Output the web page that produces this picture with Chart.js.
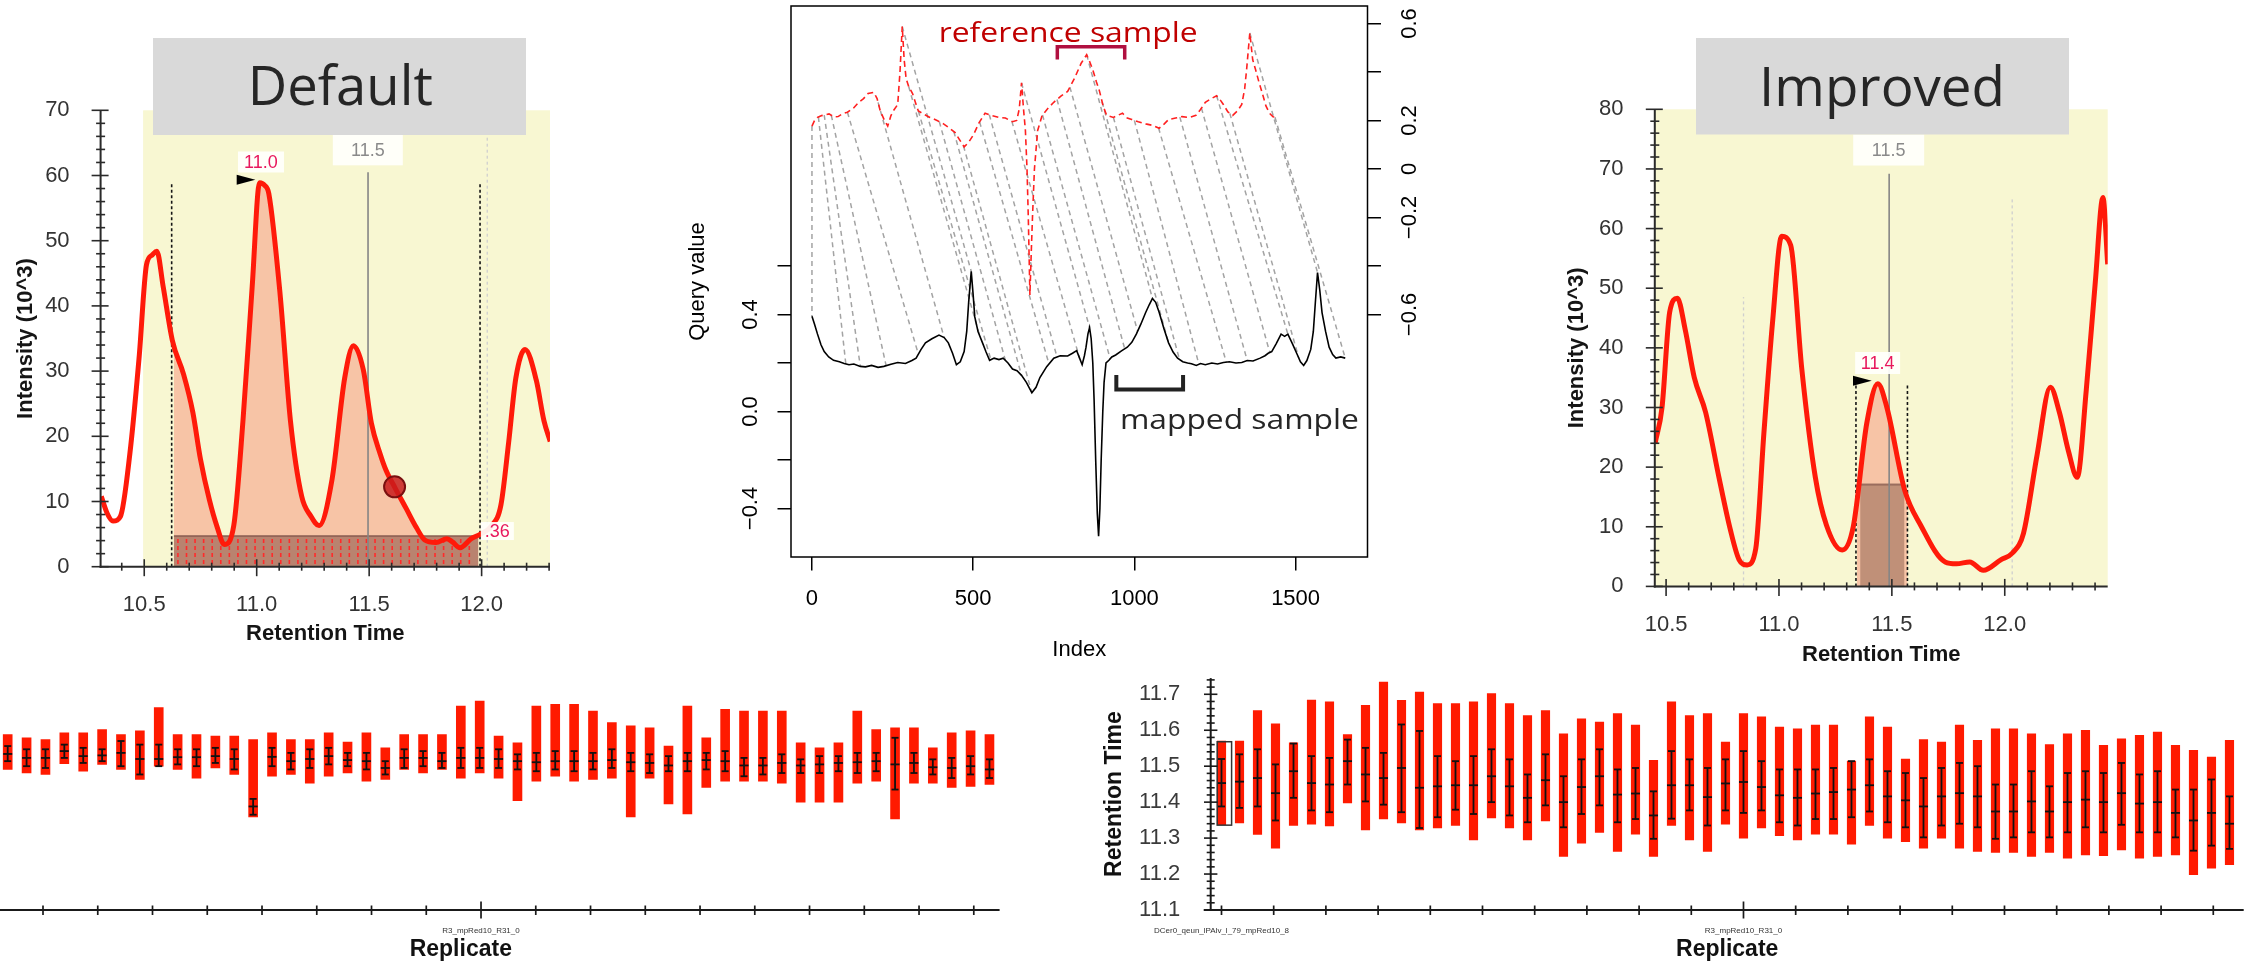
<!DOCTYPE html>
<html>
<head>
<meta charset="utf-8">
<title>Retention time alignment</title>
<script src="https://cdn.jsdelivr.net/npm/chart.js@4.4.1/dist/chart.umd.min.js"></script>
<style>
  html, body { margin: 0; padding: 0; background: #fff; width: 2261px; height: 963px; overflow: hidden; }
  canvas { position: absolute; top: 0; }
</style>
</head>
<body>
<canvas id="chartDefault" width="2261" height="963" style="left:0"></canvas>
<canvas id="chartAlign" width="2261" height="963" style="left:0"></canvas>
<canvas id="chartImproved" width="2261" height="963" style="left:0"></canvas>
<canvas id="chartRepLeft" width="1300" height="963" style="left:-200px"></canvas>
<canvas id="chartRepRight" width="2261" height="963" style="left:0"></canvas>
<script>
Chart.defaults.font.family = "'Liberation Sans', Arial, Helvetica, sans-serif";

// ---------- chromatograms (intensity x10^3 vs retention time) ----------
var timeTicks = [10.5, 11.0, 11.5, 12.0];

var defaultTime = [10.309, 10.335, 10.361, 10.394, 10.436, 10.477, 10.51, 10.535, 10.556, 10.584, 10.625, 10.675, 10.716, 10.75, 10.79, 10.825, 10.856, 10.898, 10.939, 10.98, 11.013, 11.035, 11.054, 11.104, 11.15, 11.2, 11.24, 11.277, 11.335, 11.391, 11.43, 11.474, 11.51, 11.549, 11.575, 11.615, 11.665, 11.71, 11.747, 11.797, 11.846, 11.87, 11.904, 11.954, 11.995, 12.045, 12.086, 12.12, 12.152, 12.193, 12.243, 12.277, 12.305];
var defaultIntensity = [10.8, 8.2, 7.0, 7.7, 17.3, 32, 46.3, 47.8, 48.4, 43, 34.7, 29.5, 23.7, 16.5, 10.2, 6.0, 3.4, 6.3, 22.4, 43, 58.9, 58.5, 57.2, 41.8, 22.4, 10.8, 7.8, 6.3, 13.4, 28.9, 33.9, 30.2, 22, 17.3, 14.8, 12.1, 8.9, 6.0, 4.1, 3.7, 4.3, 3.8, 2.9, 4.3, 5.0, 6.3, 9.5, 19, 28.9, 33.3, 28.6, 22.4, 19.2];
var defaultPeak = [10.632, 11.985];
var defaultBand = [10.632, 11.985, 4.7];
var defaultLines = [[10.622, 59, 'bound'], [11.993, 59, 'bound'], [11.495, 60.5, 'apex'], [12.025, 66, 'faint']];
var defaultLabels = [['11.0', 11.019, 62.07, 46, 21, 'pink'], ['11.5', 11.494, 63.94, 70, 31, 'grey'], ['.36', 12.07, 5.47, 33, 18, 'pink']];
var defaultArrow = [10.911, 10.994, 59.35];
var defaultMarker = [11.613, 12.25];

var improvedTime = [10.452, 10.482, 10.516, 10.55, 10.585, 10.625, 10.675, 10.734, 10.784, 10.823, 10.859, 10.897, 10.933, 10.972, 11.012, 11.052, 11.101, 11.161, 11.21, 11.28, 11.329, 11.389, 11.438, 11.478, 11.557, 11.627, 11.736, 11.786, 11.845, 11.905, 11.984, 12.034, 12.083, 12.143, 12.202, 12.242, 12.282, 12.321, 12.361, 12.401, 12.435, 12.456];
var improvedIntensity = [24.1, 30, 46, 48.3, 43, 35, 29.2, 18.3, 9.6, 4.5, 3.6, 6.3, 25.6, 44.5, 58.7, 57.2, 36.5, 18.3, 10.3, 6.1, 10, 27.4, 34, 30, 16.1, 10.3, 4.1, 3.8, 4.1, 2.7, 4.5, 5.6, 8.9, 22, 33.4, 29.2, 22.7, 18.3, 32.9, 51, 65.2, 54];
var improvedPeak = [11.345, 11.57];
var improvedBand = [11.36, 11.555, 17.1];
var improvedLines = [[11.341, 34, 'bound'], [11.569, 34, 'bound'], [11.488, 69.2, 'apex'], [10.843, 48.5, 'faint'], [12.033, 65.2, 'faint']];
var improvedLabels = [['11.5', 11.486, 73.17, 71, 31, 'grey'], ['11.4', 11.437, 37.46, 45, 22, 'pink']];
var improvedArrow = [11.328, 11.411, 34.47];

// ---------- DTW alignment (query vs reference) ----------
var queryIndex = [0, 8, 17, 28, 38, 52, 67, 85, 100, 115, 130, 150, 166, 185, 205, 223, 245, 266, 290, 310, 323, 338, 352, 372, 394, 410, 423, 436, 448, 460, 472, 480, 486, 494, 500, 505, 515, 529, 540, 551, 565, 580, 593, 608, 622, 636, 650, 665, 682, 695, 707, 728, 750, 770, 793, 808, 821, 830, 838, 845, 850, 856, 861, 866, 871, 875, 880, 885, 889, 893, 897, 902, 906, 912, 921, 930, 942, 960, 978, 992, 1006, 1020, 1035, 1046, 1056, 1066, 1077, 1092, 1106, 1120, 1134, 1150, 1165, 1177, 1192, 1205, 1220, 1240, 1258, 1276, 1295, 1315, 1333, 1350, 1368, 1390, 1405, 1415, 1426, 1440, 1455, 1466, 1476, 1490, 1504, 1515, 1525, 1535, 1547, 1555, 1561, 1568, 1575, 1582, 1593, 1604, 1615, 1625, 1640, 1654];
var queryValue = [0.393, 0.36, 0.32, 0.275, 0.247, 0.225, 0.211, 0.205, 0.198, 0.193, 0.196, 0.186, 0.184, 0.19, 0.182, 0.186, 0.195, 0.202, 0.198, 0.21, 0.22, 0.255, 0.283, 0.3, 0.315, 0.305, 0.283, 0.24, 0.193, 0.205, 0.247, 0.33, 0.45, 0.578, 0.48, 0.39, 0.33, 0.283, 0.245, 0.211, 0.22, 0.214, 0.22, 0.2, 0.175, 0.168, 0.149, 0.12, 0.077, 0.1, 0.14, 0.185, 0.22, 0.23, 0.229, 0.24, 0.251, 0.22, 0.193, 0.23, 0.265, 0.32, 0.346, 0.3, 0.2, 0.05, -0.2, -0.42, -0.514, -0.4, -0.2, 0.0, 0.12, 0.2, 0.211, 0.225, 0.233, 0.25, 0.265, 0.285, 0.319, 0.36, 0.408, 0.44, 0.466, 0.45, 0.408, 0.34, 0.283, 0.245, 0.22, 0.205, 0.2, 0.197, 0.19, 0.198, 0.193, 0.2, 0.196, 0.202, 0.205, 0.2, 0.202, 0.21, 0.208, 0.22, 0.23, 0.24, 0.247, 0.28, 0.319, 0.31, 0.319, 0.28, 0.238, 0.205, 0.19, 0.21, 0.256, 0.33, 0.444, 0.573, 0.5, 0.408, 0.33, 0.265, 0.235, 0.22, 0.225, 0.22];
var refIndex = [0, 8, 17, 30, 53, 68, 81, 95, 110, 128, 145, 160, 174, 192, 202, 212, 225, 235, 245, 252, 266, 273, 280, 286, 292, 300, 312, 322, 330, 348, 366, 388, 408, 425, 444, 458, 472, 486, 501, 518, 537, 558, 579, 600, 622, 635, 643, 650, 656, 662, 667, 671, 676, 680, 684, 690, 700, 714, 732, 750, 772, 793, 814, 835, 852, 862, 871, 882, 892, 903, 914, 935, 963, 978, 992, 1012, 1035, 1056, 1077, 1092, 1106, 1128, 1148, 1170, 1191, 1205, 1220, 1238, 1255, 1266, 1276, 1290, 1305, 1320, 1333, 1342, 1348, 1358, 1367, 1376, 1386, 1397, 1408, 1419, 1430, 1440];
var refValue = [0.177, 0.2, 0.2125, 0.22, 0.227, 0.215, 0.216, 0.228, 0.234, 0.25, 0.275, 0.29, 0.311, 0.316, 0.29, 0.239, 0.2, 0.177, 0.22, 0.239, 0.266, 0.4, 0.5875, 0.45, 0.373, 0.34, 0.311, 0.27, 0.239, 0.225, 0.2125, 0.2, 0.186, 0.17, 0.15, 0.12, 0.091, 0.11, 0.141, 0.19, 0.23, 0.22, 0.2125, 0.21, 0.195, 0.2, 0.248, 0.355, 0.25, 0.159, 0.0, -0.2, -0.52, -0.35, -0.198, 0.0, 0.159, 0.221, 0.25, 0.275, 0.3, 0.32, 0.373, 0.436, 0.471, 0.44, 0.409, 0.36, 0.32, 0.26, 0.221, 0.2125, 0.23, 0.21, 0.204, 0.195, 0.186, 0.18, 0.168, 0.185, 0.204, 0.21, 0.216, 0.212, 0.221, 0.245, 0.275, 0.29, 0.302, 0.285, 0.266, 0.235, 0.221, 0.24, 0.266, 0.33, 0.409, 0.561, 0.45, 0.409, 0.36, 0.311, 0.26, 0.23, 0.215, 0.2125];
var matchRef = [0, 20, 38, 60, 110, 205, 280, 300, 330, 395, 440, 470, 520, 550, 620, 650, 715, 760, 800, 852, 900, 935, 1000, 1075, 1141, 1208, 1255, 1296, 1358, 1436];
var matchQuery = [0, 105, 150, 230, 330, 410, 494, 520, 555, 600, 650, 682, 735, 760, 830, 861, 925, 970, 1010, 1056, 1105, 1140, 1200, 1285, 1350, 1420, 1476, 1510, 1568, 1654];
var indexTicks = [0, 500, 1000, 1500];
var queryTicks = [-0.4, -0.2, 0, 0.2, 0.4, 0.6];
var queryLabels = [-0.4, 0, 0.4];
var refTicks = [-0.6, -0.4, -0.2, 0, 0.2, 0.4, 0.6];
var refLabels = [-0.6, -0.2, 0, 0.2, 0.6];

// ---------- replicate retention times ----------
var repLeftHigh = [11.588, 11.579, 11.574, 11.593, 11.593, 11.602, 11.588, 11.598, 11.663, 11.588, 11.588, 11.584, 11.584, 11.574, 11.593, 11.574, 11.574, 11.593, 11.567, 11.593, 11.551, 11.588, 11.588, 11.588, 11.667, 11.681, 11.584, 11.565, 11.667, 11.672, 11.672, 11.653, 11.621, 11.612, 11.607, 11.556, 11.667, 11.579, 11.658, 11.653, 11.653, 11.653, 11.565, 11.551, 11.565, 11.653, 11.602, 11.607, 11.607, 11.551, 11.593, 11.598, 11.588];
var repLeftLow = [11.491, 11.481, 11.477, 11.507, 11.486, 11.505, 11.491, 11.463, 11.5, 11.491, 11.467, 11.495, 11.477, 11.359, 11.472, 11.477, 11.453, 11.472, 11.481, 11.458, 11.463, 11.491, 11.481, 11.491, 11.467, 11.481, 11.467, 11.404, 11.458, 11.472, 11.458, 11.463, 11.467, 11.359, 11.467, 11.395, 11.367, 11.441, 11.458, 11.458, 11.458, 11.453, 11.4, 11.4, 11.4, 11.453, 11.458, 11.353, 11.453, 11.453, 11.441, 11.444, 11.449];
var repLeftErrHigh = [11.556, 11.547, 11.547, 11.56, 11.551, 11.547, 11.57, 11.56, 11.56, 11.547, 11.547, 11.551, 11.547, 11.409, 11.551, 11.537, 11.547, 11.551, 11.537, 11.537, 11.514, 11.547, 11.542, 11.537, 11.551, 11.551, 11.547, 11.533, 11.537, 11.542, 11.542, 11.537, 11.547, 11.537, 11.533, 11.528, 11.537, 11.537, 11.542, 11.523, 11.523, 11.533, 11.519, 11.528, 11.528, 11.537, 11.537, 11.579, 11.537, 11.519, 11.523, 11.528, 11.519];
var repLeftErrLow = [11.514, 11.5, 11.495, 11.523, 11.509, 11.514, 11.5, 11.477, 11.5, 11.505, 11.5, 11.509, 11.491, 11.365, 11.5, 11.491, 11.495, 11.505, 11.5, 11.491, 11.477, 11.495, 11.5, 11.495, 11.495, 11.495, 11.495, 11.491, 11.486, 11.491, 11.486, 11.491, 11.495, 11.486, 11.481, 11.486, 11.486, 11.491, 11.486, 11.472, 11.477, 11.481, 11.481, 11.481, 11.486, 11.481, 11.486, 11.435, 11.481, 11.477, 11.467, 11.477, 11.467];
var repLeftMean = [11.534, 11.523, 11.523, 11.542, 11.528, 11.53, 11.537, 11.52, 11.52, 11.525, 11.525, 11.528, 11.52, 11.388, 11.526, 11.514, 11.52, 11.528, 11.517, 11.514, 11.495, 11.523, 11.523, 11.514, 11.523, 11.523, 11.52, 11.514, 11.511, 11.514, 11.514, 11.514, 11.517, 11.511, 11.509, 11.502, 11.514, 11.517, 11.514, 11.502, 11.502, 11.509, 11.502, 11.505, 11.509, 11.511, 11.514, 11.505, 11.509, 11.497, 11.495, 11.5, 11.491];

var repRightHigh = [11.57, 11.57, 11.655, 11.618, 11.565, 11.684, 11.679, 11.588, 11.669, 11.734, 11.683, 11.706, 11.674, 11.674, 11.679, 11.702, 11.674, 11.641, 11.655, 11.59, 11.632, 11.623, 11.646, 11.614, 11.516, 11.679, 11.641, 11.646, 11.567, 11.646, 11.637, 11.609, 11.604, 11.614, 11.614, 11.514, 11.637, 11.609, 11.52, 11.574, 11.567, 11.614, 11.572, 11.604, 11.604, 11.59, 11.56, 11.59, 11.6, 11.558, 11.576, 11.586, 11.595, 11.558, 11.544, 11.525, 11.572];
var repRightLow = [11.337, 11.342, 11.31, 11.272, 11.335, 11.339, 11.334, 11.398, 11.323, 11.353, 11.342, 11.323, 11.328, 11.335, 11.295, 11.356, 11.328, 11.295, 11.348, 11.249, 11.286, 11.316, 11.263, 11.311, 11.249, 11.335, 11.295, 11.263, 11.339, 11.3, 11.328, 11.307, 11.295, 11.311, 11.311, 11.283, 11.335, 11.3, 11.29, 11.272, 11.3, 11.272, 11.263, 11.26, 11.26, 11.249, 11.26, 11.244, 11.253, 11.251, 11.267, 11.244, 11.249, 11.253, 11.198, 11.216, 11.226];
var repRightErrHigh = [11.52, 11.533, 11.547, 11.505, 11.563, 11.528, 11.523, 11.574, 11.551, 11.537, 11.616, 11.598, 11.528, 11.514, 11.528, 11.547, 11.519, 11.477, 11.533, 11.472, 11.519, 11.547, 11.491, 11.495, 11.43, 11.542, 11.519, 11.495, 11.519, 11.542, 11.514, 11.491, 11.491, 11.491, 11.495, 11.514, 11.519, 11.486, 11.481, 11.467, 11.495, 11.509, 11.5, 11.449, 11.449, 11.486, 11.444, 11.481, 11.486, 11.481, 11.509, 11.477, 11.486, 11.435, 11.435, 11.463, 11.416];
var repRightMean = [11.453, 11.457, 11.467, 11.425, 11.486, 11.453, 11.449, 11.514, 11.477, 11.467, 11.495, 11.44, 11.444, 11.447, 11.447, 11.472, 11.444, 11.412, 11.461, 11.4, 11.442, 11.472, 11.421, 11.424, 11.363, 11.447, 11.447, 11.414, 11.452, 11.456, 11.442, 11.419, 11.412, 11.424, 11.428, 11.435, 11.447, 11.416, 11.405, 11.388, 11.416, 11.425, 11.416, 11.374, 11.374, 11.402, 11.374, 11.4, 11.407, 11.4, 11.425, 11.396, 11.4, 11.37, 11.349, 11.37, 11.34];
var repRightErrLow = [11.388, 11.384, 11.388, 11.349, 11.412, 11.377, 11.372, 11.449, 11.402, 11.393, 11.372, 11.328, 11.358, 11.379, 11.367, 11.4, 11.363, 11.344, 11.391, 11.33, 11.367, 11.391, 11.344, 11.353, 11.298, 11.354, 11.377, 11.335, 11.377, 11.37, 11.377, 11.344, 11.335, 11.353, 11.353, 11.358, 11.374, 11.344, 11.33, 11.302, 11.335, 11.34, 11.33, 11.298, 11.302, 11.316, 11.302, 11.316, 11.33, 11.316, 11.337, 11.316, 11.316, 11.302, 11.265, 11.279, 11.27];
var rtTicks = [11.1, 11.2, 11.3, 11.4, 11.5, 11.6, 11.7];

// ---------- helpers ----------
function seg(ctx, x1, y1, x2, y2) {
  ctx.beginPath(); ctx.moveTo(x1, y1); ctx.lineTo(x2, y2); ctx.stroke();
}
function interp(xs, ys, v) {
  for (var i = 1; i < xs.length; i++) {
    if (v <= xs[i]) {
      var t = (v - xs[i - 1]) / (xs[i] - xs[i - 1]);
      return ys[i - 1] + t * (ys[i] - ys[i - 1]);
    }
  }
  return ys[ys.length - 1];
}
function pairs(xs, ys) {
  return xs.map(function (x, i) { return {x: x, y: ys[i]}; });
}
function peakArea(xs, ys, from, to) {
  var pts = [{x: from, y: interp(xs, ys, from)}];
  xs.forEach(function (x, i) { if (x > from && x < to) pts.push({x: x, y: ys[i]}); });
  pts.push({x: to, y: interp(xs, ys, to)});
  return pts;
}
// draw text stretched to a given width (the figure text is a bit wide)
function fitText(ctx, text, x, base, width, font, color) {
  ctx.save();
  ctx.font = font; ctx.fillStyle = color;
  ctx.textAlign = 'left'; ctx.textBaseline = 'alphabetic';
  var s = width / ctx.measureText(text).width;
  ctx.translate(x, base); ctx.scale(s, 1);
  ctx.fillText(text, 0, 0);
  ctx.restore();
}
function valueTicks(list) {
  return function (s) { s.ticks = list.map(function (v) { return {value: v}; }); };
}

var lineStyles = {
  bound: {color: '#151515', dash: [3, 2.5], width: 1.6},
  apex: {color: '#858585', dash: [], width: 1.6},
  faint: {color: '#cfcfcf', dash: [3, 3], width: 1.3}
};

function chromDecor(p) {
  return {
    id: 'chromDecor',
    beforeDatasetsDraw: function (chart) {
      var a = chart.chartArea, ctx = chart.ctx;
      var left = Math.max(a.left, chart.scales.x.getPixelForValue(p.shadeFrom));
      ctx.save();
      ctx.fillStyle = '#f8f7d2';
      ctx.fillRect(left, a.top, a.right - left, a.bottom - a.top);
      ctx.restore();
    },
    afterDatasetDraw: function (chart, args) {
      if (args.index !== 1) return;
      var ctx = chart.ctx, x = chart.scales.x, y = chart.scales.y;
      var x0 = x.getPixelForValue(p.band[0]), x1 = x.getPixelForValue(p.band[1]);
      var yb = y.getPixelForValue(0), yt = y.getPixelForValue(p.band[2]);
      ctx.save();
      ctx.fillStyle = p.bandColor;
      ctx.fillRect(x0, yt, x1 - x0, yb - yt);
      ctx.strokeStyle = 'rgba(130,85,75,0.7)'; ctx.lineWidth = 2;
      seg(ctx, x0, yt, x1, yt);
      if (p.hatch) {
        ctx.strokeStyle = '#ff2b2b'; ctx.lineWidth = 1.6; ctx.setLineDash([4, 3]);
        for (var hx = x0 + 4; hx < x1 - 1; hx += 8.57) seg(ctx, hx, yt + 3, hx, yb);
      }
      p.lines.forEach(function (l) {
        var st = lineStyles[l[2]];
        var lx = x.getPixelForValue(l[0]);
        ctx.strokeStyle = st.color; ctx.lineWidth = st.width; ctx.setLineDash(st.dash);
        seg(ctx, lx, y.getPixelForValue(0), lx, y.getPixelForValue(l[1]));
      });
      ctx.restore();
    },
    afterDatasetsDraw: function (chart) {
      var ctx = chart.ctx, a = chart.chartArea, x = chart.scales.x, y = chart.scales.y;
      ctx.save();
      // axes with crossing ticks
      ctx.strokeStyle = '#2a2a2a'; ctx.lineWidth = 2;
      seg(ctx, a.left, a.top, a.left, a.bottom + 1);
      seg(ctx, a.left - 1, a.bottom, a.right, a.bottom);
      ctx.lineWidth = 1.6;
      for (var v = 0; v <= p.yMax; v += 2) {
        var yy = y.getPixelForValue(v), major = v % 10 === 0;
        seg(ctx, a.left - (major ? 9 : 4.5), yy, a.left + (major ? 8 : 4.5), yy);
      }
      for (var k = Math.ceil(x.min * 10); k <= Math.floor(x.max * 10); k++) {
        var xx = x.getPixelForValue(k / 10), maj = k % 5 === 0;
        seg(ctx, xx, a.bottom - (maj ? 7.5 : 4), xx, a.bottom + (maj ? 9.5 : 4));
      }
      // peak labels
      p.labels.forEach(function (l) {
        var cx = x.getPixelForValue(l[1]), cy = y.getPixelForValue(l[2]);
        ctx.fillStyle = 'rgba(255,255,252,0.93)';
        ctx.fillRect(cx - l[3] / 2, cy - l[4] / 2, l[3], l[4]);
        ctx.fillStyle = l[5] === 'pink' ? '#e8185c' : '#8a8a8a';
        ctx.font = "18px 'Liberation Sans', Arial, sans-serif";
        ctx.textAlign = 'center'; ctx.textBaseline = 'middle';
        ctx.fillText(l[0], cx, cy + 1);
      });
      // apex arrow
      var ax0 = x.getPixelForValue(p.arrow[0]), ax1 = x.getPixelForValue(p.arrow[1]), ay = y.getPixelForValue(p.arrow[2]);
      ctx.fillStyle = '#000';
      ctx.beginPath(); ctx.moveTo(ax0, ay - 5); ctx.lineTo(ax1, ay); ctx.lineTo(ax0, ay + 5); ctx.closePath(); ctx.fill();
      ctx.restore();
    },
    afterDraw: function (chart) {
      var ctx = chart.ctx, t = p.tag;
      ctx.save();
      ctx.fillStyle = '#d9d9d9';
      ctx.fillRect(t.box[0], t.box[1], t.box[2] - t.box[0], t.box[3] - t.box[1]);
      ctx.restore();
      fitText(ctx, t.text, t.left, t.base, t.width, "54px 'Open Sans', Lato, sans-serif", '#262626');
    }
  };
}

function chromatogram(id, p) {
  var a = p.area;
  var sets = [
    {data: pairs(p.time, p.intensity), borderColor: '#ff1a0a', borderWidth: 5, pointRadius: 0,
     cubicInterpolationMode: 'monotone', fill: false, order: 1},
    {data: peakArea(p.time, p.intensity, p.peak[0], p.peak[1]), borderColor: 'rgba(0,0,0,0)', borderWidth: 0,
     pointRadius: 0, cubicInterpolationMode: 'monotone', fill: 'origin', backgroundColor: '#f7c4a6', order: 2}
  ];
  if (p.marker) {
    sets.push({data: [{x: p.marker[0], y: p.marker[1]}], showLine: false, pointRadius: 10.5,
      pointBackgroundColor: 'rgba(200,28,28,0.85)', pointBorderColor: '#7a1010', pointBorderWidth: 2, order: 0});
  }
  var yTicks = [];
  for (var v = 0; v <= p.yMax; v += 10) yTicks.push(v);
  return new Chart(document.getElementById(id), {
    type: 'line',
    data: {datasets: sets},
    options: {
      responsive: false, animation: false, devicePixelRatio: 1,
      layout: {padding: {left: a.l - p.yAxisW, top: a.t, right: 2261 - a.r, bottom: 963 - a.b - p.xAxisH}},
      plugins: {legend: {display: false}, tooltip: {enabled: false}},
      scales: {
        x: {
          type: 'linear', min: p.xRange[0], max: p.xRange[1],
          afterFit: function (s) { s.height = p.xAxisH; },
          afterBuildTicks: valueTicks(timeTicks),
          grid: {display: false}, border: {display: false},
          ticks: {padding: p.xLabelPad, font: {size: 22}, color: '#333', maxRotation: 0, autoSkip: false,
                  callback: function (v) { return v.toFixed(1); }},
          title: {display: true, text: 'Retention Time', font: {size: 22, weight: 'bold'}, color: '#151515', padding: 0}
        },
        y: {
          min: 0, max: p.yMax,
          afterFit: function (s) { s.width = p.yAxisW; },
          afterBuildTicks: valueTicks(yTicks),
          grid: {display: false}, border: {display: false},
          ticks: {padding: p.yLabelPad, font: {size: 22}, color: '#333'},
          title: {display: true, text: 'Intensity (10^3)', font: {size: 22, weight: 'bold'}, color: '#151515', padding: 0}
        }
      }
    },
    plugins: [chromDecor(p)]
  });
}

chromatogram('chartDefault', {
  time: defaultTime, intensity: defaultIntensity,
  area: {l: 100.6, t: 110.3, r: 550, b: 566.7},
  yAxisW: 88, xAxisH: 80, yLabelPad: 23, xLabelPad: 16.9,
  xRange: [10.306, 12.304], yMax: 70, shadeFrom: 10.495,
  peak: defaultPeak, band: defaultBand, bandColor: '#b9836f', hatch: true,
  lines: defaultLines, labels: defaultLabels, arrow: defaultArrow, marker: defaultMarker,
  tag: {text: 'Default', box: [153, 38, 526, 135], left: 247.8, width: 185, base: 105.3}
});

chromatogram('chartImproved', {
  time: improvedTime, intensity: improvedIntensity,
  area: {l: 1654.8, t: 109.3, r: 2107.7, b: 586.4},
  yAxisW: 91, xAxisH: 81.7, yLabelPad: 23.3, xLabelPad: 17.1,
  xRange: [10.45, 12.456], yMax: 80, shadeFrom: 10.45,
  peak: improvedPeak, band: improvedBand, bandColor: '#c09078', hatch: false,
  lines: improvedLines, labels: improvedLabels, arrow: improvedArrow, marker: null,
  tag: {text: 'Improved', box: [1696, 38, 2069, 134.5], left: 1759, width: 246, base: 106}
});

// ---------- alignment panel ----------
function signed(v, digits) {
  var s = Math.abs(v).toFixed(digits);
  return v < 0 ? '\u2212' + s : s;
}
var alignDecor = {
  id: 'alignDecor',
  beforeDatasetsDraw: function (chart) {
    var ctx = chart.ctx, x = chart.scales.x, y = chart.scales.y, y2 = chart.scales.y2;
    ctx.save();
    ctx.strokeStyle = '#a3a3a3'; ctx.lineWidth = 1.5; ctx.setLineDash([5, 4]);
    matchRef.forEach(function (r, i) {
      var q = matchQuery[i];
      seg(ctx, x.getPixelForValue(r), y2.getPixelForValue(interp(refIndex, refValue, r)),
               x.getPixelForValue(q), y.getPixelForValue(interp(queryIndex, queryValue, q)));
    });
    ctx.restore();
  },
  afterDatasetsDraw: function (chart) {
    var ctx = chart.ctx, a = chart.chartArea, y = chart.scales.y, y2 = chart.scales.y2;
    ctx.save();
    ctx.strokeStyle = '#000'; ctx.lineWidth = 1.5;
    ctx.strokeRect(a.left, a.top, a.right - a.left, a.bottom - a.top);
    ctx.fillStyle = '#000';
    ctx.font = "22px 'Liberation Sans', Arial, sans-serif";
    ctx.textAlign = 'center'; ctx.textBaseline = 'middle';
    queryLabels.forEach(function (v) {
      ctx.save(); ctx.translate(750.8, y.getPixelForValue(v)); ctx.rotate(-Math.PI / 2);
      ctx.fillText(signed(v, 1), 0, 0); ctx.restore();
    });
    refLabels.forEach(function (v) {
      ctx.save(); ctx.translate(1410, y2.getPixelForValue(v)); ctx.rotate(-Math.PI / 2);
      ctx.fillText(v === 0 ? '0' : signed(v, 1), 0, 0); ctx.restore();
    });
    ctx.restore();
  },
  afterDraw: function (chart) {
    var ctx = chart.ctx, x = chart.scales.x, y = chart.scales.y, y2 = chart.scales.y2;
    // reference bracket and label (reference axis)
    var r0 = x.getPixelForValue(761), r1 = x.getPixelForValue(970);
    var rTop = y2.getPixelForValue(0.504), rTip = y2.getPixelForValue(0.451);
    ctx.save();
    ctx.strokeStyle = '#b01040'; ctx.lineWidth = 3.5; ctx.lineJoin = 'miter';
    ctx.beginPath(); ctx.moveTo(r0, rTip); ctx.lineTo(r0, rTop); ctx.lineTo(r1, rTop); ctx.lineTo(r1, rTip); ctx.stroke();
    var m0 = x.getPixelForValue(944), m1 = x.getPixelForValue(1151);
    var mLow = y.getPixelForValue(0.091), mTip = y.getPixelForValue(0.15);
    ctx.strokeStyle = '#222'; ctx.lineWidth = 4;
    ctx.beginPath(); ctx.moveTo(m0, mTip); ctx.lineTo(m0, mLow); ctx.lineTo(m1, mLow); ctx.lineTo(m1, mTip); ctx.stroke();
    ctx.restore();
    fitText(ctx, 'reference sample', x.getPixelForValue(393), y2.getPixelForValue(0.525), 259,
            "28px 'Open Sans', Lato, sans-serif", '#c00000');
    fitText(ctx, 'mapped sample', x.getPixelForValue(955), y.getPixelForValue(-0.072), 239,
            "28px 'Open Sans', Lato, sans-serif", '#262626');
  }
};

var rTick = {display: true, drawOnChartArea: false, drawTicks: true, tickLength: 13.5,
             color: '#000', tickColor: '#000', tickWidth: 1.5, lineWidth: 1.5};

new Chart(document.getElementById('chartAlign'), {
  type: 'line',
  data: {
    datasets: [
      {label: 'query', data: pairs(queryIndex, queryValue), yAxisID: 'y', borderColor: '#000',
       borderWidth: 1.6, pointRadius: 0, tension: 0},
      {label: 'reference', data: pairs(refIndex, refValue), yAxisID: 'y2', borderColor: '#ff2020',
       borderWidth: 1.6, borderDash: [6, 4], pointRadius: 0, tension: 0}
    ]
  },
  options: {
    responsive: false, animation: false, devicePixelRatio: 1,
    layout: {padding: {left: 685.1, top: 6, right: 2261 - 1367.5 - 50, bottom: 963 - 557 - 106.2}},
    plugins: {legend: {display: false}, tooltip: {enabled: false}},
    scales: {
      x: {
        type: 'linear', min: -65, max: 1723,
        afterFit: function (s) { s.height = 106.2; },
        afterBuildTicks: valueTicks(indexTicks),
        grid: rTick, border: {display: false},
        ticks: {padding: 14.8, font: {size: 22}, color: '#000', maxRotation: 0, autoSkip: false,
                callback: function (v) { return String(v); }},
        title: {display: true, text: 'Index', font: {size: 22}, color: '#000', padding: 0}
      },
      y: {
        position: 'left', min: -0.6, max: 1.672,
        afterFit: function (s) { s.width = 105.9; },
        afterBuildTicks: valueTicks(queryTicks),
        grid: rTick, border: {display: false},
        ticks: {display: false},
        title: {display: true, text: 'Query value', font: {size: 22}, color: '#000', padding: 0}
      },
      y2: {
        position: 'right', min: -1.6, max: 0.672,
        afterFit: function (s) { s.width = 50; },
        afterBuildTicks: valueTicks(refTicks),
        grid: rTick, border: {display: false},
        ticks: {display: false}
      }
    }
  },
  plugins: [alignDecor]
});

// ---------- replicate panels ----------
function replicateDecor(p) {
  return {
    id: 'replicateDecor',
    afterDatasetsDraw: function (chart) {
      var ctx = chart.ctx, a = chart.chartArea, x = chart.scales.x, y = chart.scales.y;
      ctx.save();
      ctx.strokeStyle = '#111'; ctx.lineWidth = 1.8;
      p.mean.forEach(function (m, i) {
        var cx = x.getPixelForValue(i);
        var yt = y.getPixelForValue(p.errHigh[i]), yb = y.getPixelForValue(p.errLow[i]), ym = y.getPixelForValue(m);
        seg(ctx, cx, yt, cx, yb);
        seg(ctx, cx - 3.5, yt, cx + 3.5, yt);
        seg(ctx, cx - 3.5, yb, cx + 3.5, yb);
        seg(ctx, cx - 4.5, ym, cx + 4.5, ym);
      });
      if (p.selected) {
        var sx = x.getPixelForValue(p.selected[0]);
        var st = y.getPixelForValue(p.selected[2]), sb = y.getPixelForValue(p.selected[1]);
        ctx.strokeStyle = '#333'; ctx.lineWidth = 1.5;
        ctx.strokeRect(sx - 4.3, st, 14.4, sb - st);
      }
      ctx.strokeStyle = '#1a1a1a'; ctx.lineWidth = 2;
      seg(ctx, a.left - (p.yAxis ? 7 : 0), a.bottom, a.right, a.bottom);
      ctx.lineWidth = 1.7;
      p.ticks.forEach(function (v, k) {
        var tx = x.getPixelForValue(v), tall = k === p.tall;
        seg(ctx, tx, a.bottom - (tall ? 8.5 : 4.5), tx, a.bottom + (tall ? 8.5 : 5));
      });
      if (p.yAxis) {
        ctx.lineWidth = 2;
        seg(ctx, a.left, a.bottom, a.left, a.top);
        ctx.lineWidth = 1.6;
        for (var k = Math.ceil(y.min * 50 - 1e-6); k <= Math.floor(y.max * 50 + 1e-6); k++) {
          var yy = y.getPixelForValue(k / 50), major = k % 5 === 0;
          seg(ctx, a.left - (major ? 6.7 : 4), yy, a.left + (major ? 6.7 : 4), yy);
        }
      }
      ctx.restore();
    }
  };
}

function replicatePanel(id, p) {
  var a = p.area;
  return new Chart(document.getElementById(id), {
    type: 'bar',
    data: {
      datasets: [{
        data: p.high.map(function (h, i) { return {x: i, y: [p.low[i], h]}; }),
        backgroundColor: '#ff1a00', borderWidth: 0, barThickness: p.barW
      }]
    },
    options: {
      responsive: false, animation: false, devicePixelRatio: 1,
      layout: {padding: {left: a.l - p.yAxisW, top: a.t, right: p.width - a.r, bottom: 963 - a.b - 51.5}},
      plugins: {legend: {display: false}, tooltip: {enabled: false}},
      scales: {
        x: {
          type: 'linear', min: p.xRange[0], max: p.xRange[1], offset: false,
          afterFit: function (s) { s.height = 51.5; },
          afterBuildTicks: valueTicks(p.ticks),
          grid: {display: false}, border: {display: false},
          ticks: {padding: 8.2, font: {size: 8}, color: '#333', maxRotation: 0, autoSkip: false,
                  callback: function (v, i) { return p.tickText[i] || ''; }},
          title: {display: true, text: 'Replicate', font: {size: 23, weight: 'bold', lineHeight: 1}, color: '#111', padding: 0}
        },
        y: {
          display: p.yAxis, min: 11.1, max: 11.745, beginAtZero: false,
          afterFit: function (s) { s.width = p.yAxisW; },
          afterBuildTicks: valueTicks(rtTicks),
          grid: {display: false}, border: {display: false},
          ticks: {padding: 22.4, font: {size: 22}, color: '#3a3a3a', callback: function (v) { return v.toFixed(1); }},
          title: {display: true, text: 'Retention Time', font: {size: 23, weight: 'bold'}, color: '#111', padding: 0}
        }
      }
    },
    plugins: [replicateDecor(p)]
  });
}

var leftTicks = [], rightTicks = [];
for (var k = -8; k <= 9; k++) leftTicks.push(25.07 + 2.9 * k);
for (var j = 0; j <= 19; j++) rightTicks.push(2.9 * j);

// left panel canvas starts 200px left of the page (its y axis is cropped away)
replicatePanel('chartRepLeft', {
  high: repLeftHigh, low: repLeftLow, errHigh: repLeftErrHigh, errLow: repLeftErrLow, mean: repLeftMean,
  area: {l: 122, t: 678.1, r: 1199.6, b: 910}, width: 1300, yAxisW: 0, yAxis: false,
  xRange: [-4.539, 52.537], barW: 9, ticks: leftTicks, tall: 8,
  tickText: {8: 'R3_mpRed10_R31_0'}, selected: null
});

replicatePanel('chartRepRight', {
  high: repRightHigh, low: repRightLow, errHigh: repRightErrHigh, errLow: repRightErrLow, mean: repRightMean,
  area: {l: 1210.7, t: 678.1, r: 2243.7, b: 910}, width: 2261, yAxisW: 109.5, yAxis: true,
  xRange: [-0.6, 56.79], barW: 8.5, ticks: rightTicks, tall: 10,
  tickText: {0: 'DCer0_qeun_lPAlv_l_79_mpRed10_8', 10: 'R3_mpRed10_R31_0'}, selected: [0, 11.336, 11.568]
});
</script>
</body>
</html>
